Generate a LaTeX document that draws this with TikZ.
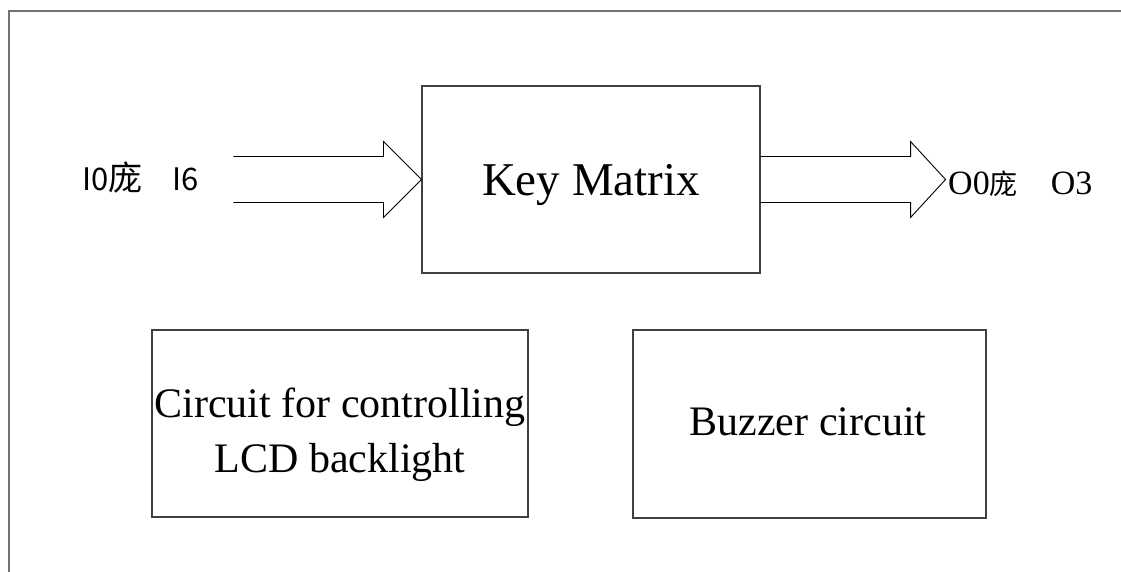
\documentclass[tikz,border=0pt]{standalone}
\usepackage{fontspec}
\setmainfont{Liberation Serif}
\newfontfamily\cjk{Noto Sans CJK SC}
\usetikzlibrary{positioning,calc}
\tikzset{
  keret/.style={draw=black!55,line width=1.8pt},
  doboz/.style={draw=black!75,line width=1.1pt,inner sep=0pt},
  nyil/.style={draw,line width=0.9pt,line join=miter},
  szoveg/.style={inner sep=0pt,align=center},
}
\begin{document}
\begin{tikzpicture}[x=1pt,y=-1pt]
  \useasboundingbox (0,0) rectangle (1121,571);
  \draw[keret] (9,575) -- (9,11) -- (1125,11);
  % dobozok
  \node[doboz,minimum width=338pt,minimum height=187pt] (kulcs) at (591,179.5) {};
  \node[doboz,minimum width=376pt,minimum height=187pt] (lcd) at (340,423.5) {};
  \node[doboz,minimum width=353pt,minimum height=188pt] (zummer) at (809.5,424) {};
  \node[szoveg,anchor=base,font=\fontsize{47}{56}\selectfont] (kulcsfelirat)
    at ($(kulcs.center)+(0,15.5)$) {Key Matrix};
  \node[szoveg,font=\fontsize{42}{55}\selectfont] (lcdfelirat)
    at ($(lcd.center)+(0,11)$) {Circuit for controlling\\LCD backlight};
  \node[szoveg,anchor=base,font=\fontsize{42}{50}\selectfont] (zummerfelirat)
    at ($(zummer.center)+(-1.5,11)$) {Buzzer circuit};
  % nyilak
  \draw[nyil] ($(kulcs.west)+(-188,-23)$) -- ++(150,0) -- ++(0,-15) -- (kulcs.west)
    -- ($(kulcs.west)+(-38,38)$) -- ++(0,-15) -- ++(-150,0);
  \draw[nyil] ($(kulcs.east)+(0,-23)$) -- ++(150,0) -- ++(0,-15) -- ($(kulcs.east)+(185,0)$)
    -- ($(kulcs.east)+(150,38)$) -- ++(0,-15) -- ++(-150,0);
  \node[szoveg,anchor=base west,font=\cjk\fontsize{31}{36}\selectfont] (be) at (82,190)
    {I0{\fontsize{34}{40}\selectfont 庞}\hspace*{30pt}I6};
  \node[szoveg,anchor=base west,font=\fontsize{34}{40}\selectfont] (ki) at (948,194)
    {O0{\cjk\fontsize{28}{32}\selectfont 庞}\hspace*{33pt}O3};
\end{tikzpicture}
\end{document}
